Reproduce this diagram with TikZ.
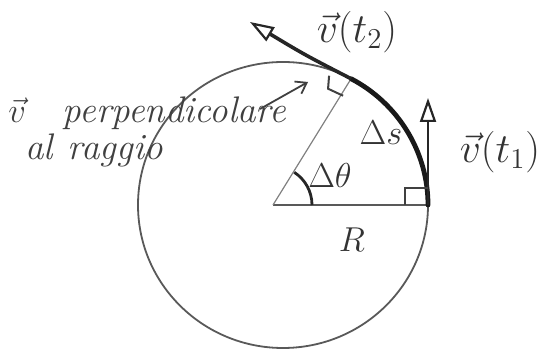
\documentclass[tikz,border=0pt]{standalone}
\usepackage{amsmath}
\usetikzlibrary{arrows.meta,calc}
\tikzset{
  cerchio/.style={draw=black!65,line width=0.9pt},
  raggio/.style ={draw=black!65,line width=0.8pt},
  arco/.style   ={draw=black!90,line width=2.4pt,line cap=round},
  vec/.style    ={draw=black!85,line width=1.4pt,
                  -{Triangle[open,length=12pt,width=8pt,line width=1.1pt]}},
  rett/.style   ={draw=black!75,line width=1pt},
  ang/.style    ={draw=black!85,line width=1.4pt},
  lab/.style    ={inner sep=0pt,text=black!80,font=\fontsize{20}{24}\selectfont},
  nota/.style   ={inner sep=0pt,anchor=base west,text=black!75,
                  font=\fontsize{18.5}{21}\selectfont\itshape},
  ar/.style     ={draw=black!75,line width=0.9pt,-{Straight Barb[length=5pt,width=7pt]}},
}

\begin{document}
\begin{tikzpicture}[x=0.5pt,y=0.5pt]
\useasboundingbox (0,0) rectangle (545,352);
% points
\coordinate (C)  at (283,147);
\coordinate (O)  at (273,147);
\coordinate (P1) at (428,147);
\coordinate (P2) at ($(C)+(62:72.5pt and 71.5pt)$);
\coordinate (T1) at (428,254);
\coordinate (T2) at (250,330);
% circle
\draw[cerchio] (C) ellipse[x radius=72.5pt,y radius=71.5pt];
% radii
\draw[raggio] (O) -- (P1);
\draw[raggio,draw=black!50,line width=0.6pt] (O) -- (P2);
% arc and velocity vectors
\draw[arco] (P1) arc[start angle=0,end angle=62,x radius=72.5pt,y radius=71.5pt];
\draw[vec,line width=1.8pt] (P2) .. controls (305,297) .. (T2);
\draw[vec,line width=1.2pt] (P1) -- (T1);
% right angles
\draw[rett] ($(P1)+(-23,0)$) |- ($(P1)+(0,17)$);
\draw[rett] ($(P2)+(-22,3)$) -- ($(P2)+(-23,-10)$) -- ($(P2)+(-8,-17)$);
% angle
\draw[ang] ($(O)+(39,0)$) arc[start angle=0,end angle=57,radius=19.5pt];
% labels
\node[lab] (lv2) at (357,320) {$\vec{v}(t_2)$};
\node[lab] (lv1) at (500,200) {$\vec{v}(t_1)$};
\node[lab,font=\fontsize{16}{19}\selectfont] (lds) at (381,219) {$\Delta s$};
\node[lab,font=\fontsize{16}{19}\selectfont] (ldt) at (330,176) {$\Delta\theta$};
\node[lab,font=\fontsize{18}{21}\selectfont] (lR) at (352,112) {$R$};
% note
\node[nota] (n1) at (8,229) {$\vec{v}$\hspace{1.0em}perpendicolare};
\node[nota] (n2) at (25,192) {al\hspace{0.4em}raggio};
\coordinate (A) at (260,243);
\coordinate (B) at (308,270);
\draw[ar] (A) -- (B);
\end{tikzpicture}
\end{document}
